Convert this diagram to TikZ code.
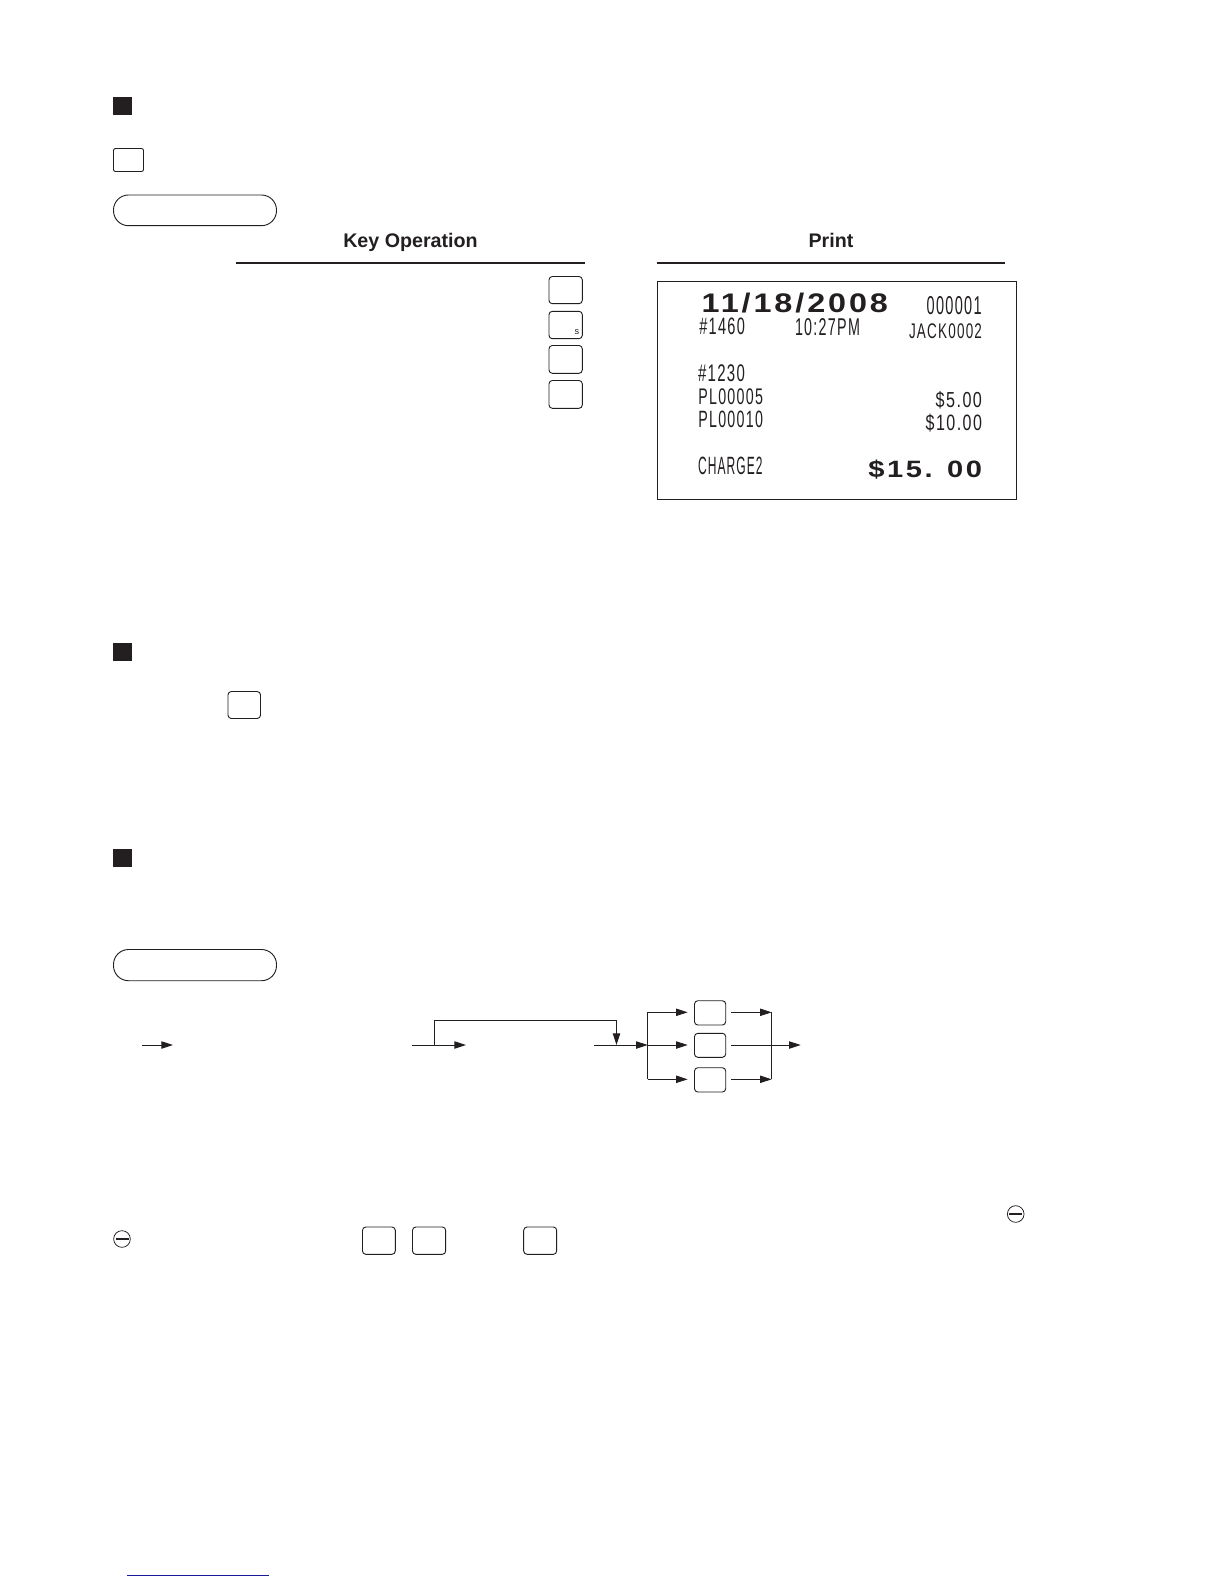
\documentclass[tikz,border=0pt]{standalone}
\usepackage{fontspec}
\usepackage{graphicx}
\setmainfont{Liberation Sans}
\usetikzlibrary{arrows.meta,shapes.misc}
\definecolor{ink}{HTML}{231F20}
\definecolor{linkblue}{HTML}{1A1A9C}
\tikzset{
  x=0.6pt,y=-0.6pt,
  every node/.style={inner sep=0pt,outer sep=0pt,text=ink},
  box/.style={draw=ink,fill=none,line width=0.55pt},
  keybox/.style={box,rounded corners=2pt},
  smallkey/.style={box,rounded corners=1.2pt},
  pillbox/.style={box,rounded corners=9pt},
  bullet/.style={fill=ink,draw=none},
  rule/.style={draw=ink,line width=0.95pt},
  flow/.style={draw=ink,line width=0.6pt},
  flowarrow/.style={flow,-{Triangle[length=7pt,width=4.4pt]}},
  head/.style={font=\fontsize{11.8}{14}\selectfont\bfseries,anchor=base},
  rct/.style={inner sep=0pt}
}
% rectangle from pixel corners
\newcommand{\pxrect}[6]{\draw[#1] (#3,#4) rectangle (#5,#6) node[pos=.5] (#2) {};}
% receipt text fitted into pixel box
\newcommand{\rcpt}[6]{%
  \pgfmathsetlengthmacro{\rw}{(#4-#2)*0.6pt}%
  \pgfmathsetlengthmacro{\rh}{(#5-#3)*0.6pt}%
  \node[rct] (#1) at ({(#2+#4)/2},{(#3+#5)/2}) {\resizebox*{\rw}{\rh}{\addfontfeature{LetterSpace=9}#6}};}
\begin{document}
\begin{tikzpicture}
\useasboundingbox (0,0) rectangle (1224,1584);
\fill[white] (0,0) rectangle (1224,1584);

% Section bullets
\pxrect{bullet}{bulletA}{113}{97}{132}{115}
\pxrect{bullet}{bulletB}{113}{643}{132}{661}
\pxrect{bullet}{bulletC}{113}{849}{132}{867}

% Inline keys
\pxrect{smallkey}{keyIntro}{113.5}{148.5}{143.5}{171.5}
\pxrect{pillbox}{pillA}{113.5}{195}{276.5}{225.7}
\pxrect{keybox}{keyMid}{228}{691.5}{260.5}{718.5}

% Table heads
\node[head] (keyHead) at (410.5,247.5) {Key Operation};
\node[head] (printHead) at (831,247.5) {Print};
\coordinate (ruleAl) at (236,263);
\coordinate (ruleAr) at (585,263);
\coordinate (ruleBl) at (656.5,263);
\coordinate (ruleBr) at (1005,263);
\draw[rule] (ruleAl) -- (ruleAr);
\draw[rule] (ruleBl) -- (ruleBr);

% Key operation keys
\pxrect{keybox}{opA}{549}{276.5}{582.3}{303.7}
\pxrect{keybox}{opB}{549}{311.3}{582.3}{338.7}
\pxrect{keybox}{opC}{549}{345.5}{582.3}{373.3}
\pxrect{keybox}{opD}{549}{380.5}{582.3}{408.3}
\node[font=\fontsize{5.5}{6}\selectfont] (opBsub) at (577,332) {s};

% Receipt
\pxrect{box}{receipt}{657.5}{281.7}{1016.7}{499.3}
\rcpt{rDate}{701.7}{293}{888}{313}{\bfseries 11/18/2008}
\rcpt{rNum}{926.7}{296.7}{981.7}{315}{000001}
\rcpt{rCons}{699.3}{317.5}{745}{334.3}{\#1460}
\rcpt{rTime}{795}{318.5}{860}{335.7}{10:27PM}
\rcpt{rClerk}{909}{323.3}{982}{338.3}{JACK0002}
\rcpt{rTable}{698}{365}{745}{382}{\#1230}
\rcpt{rPluA}{698.3}{389}{763}{405}{PL00005}
\rcpt{rPluB}{698.3}{411}{763}{427.7}{PL00010}
\rcpt{rAmtA}{935.7}{391.7}{982}{409.3}{\$5.00}
\rcpt{rAmtB}{925.7}{414.3}{982}{432.3}{\$10.00}
\rcpt{rPay}{698}{457.3}{762.7}{475}{CHARGE2}
\rcpt{rTotal}{868.3}{460}{982}{479.3}{\bfseries \$15. 00}

% Flow diagram
\pxrect{pillbox}{pillB}{113.5}{949.5}{276.5}{980.7}
\pxrect{keybox}{flowA}{694.5}{1000.7}{725.7}{1025}
\pxrect{keybox}{flowB}{694.5}{1033.3}{725.7}{1057.3}
\pxrect{keybox}{flowC}{694.5}{1067.7}{725.7}{1092}

\coordinate (startA) at (141.5,1045);
\coordinate (endA) at (173,1045);
\draw[flowarrow] (startA) -- (endA);

\coordinate (startB) at (412,1045);
\coordinate (endB) at (466,1045);
\draw[flowarrow] (startB) -- (endB);

\coordinate (startC) at (594,1045);
\coordinate (busL) at (647.7,1045);
\draw[flowarrow] (startC) -- (busL);

\coordinate (loopStart) at (434,1045);
\coordinate (loopUpA) at (434,1020.3);
\coordinate (loopUpB) at (616.5,1020.3);
\coordinate (loopEnd) at (616.5,1045);
\draw[flowarrow] (loopStart) -- (loopUpA) -- (loopUpB) -- (loopEnd);

\coordinate (busLtop) at (647.7,1012.3);
\coordinate (busLbot) at (647.7,1079.3);
\draw[flow] (busLtop) -- (busLbot);
\coordinate (inA) at (687.7,1012.3);
\coordinate (inB) at (687.7,1045);
\coordinate (inC) at (687.7,1079.3);
\draw[flowarrow] (busLtop) -- (inA);
\draw[flowarrow] (busL) -- (inB);
\draw[flowarrow] (busLbot) -- (inC);

\coordinate (outAs) at (731,1012.3);
\coordinate (outBs) at (731,1045);
\coordinate (outCs) at (731,1079.3);
\coordinate (busRtop) at (771.7,1012.3);
\coordinate (busRbot) at (771.7,1079.3);
\coordinate (outEnd) at (800.7,1045);
\draw[flow] (busRtop) -- (busRbot);
\draw[flowarrow] (outAs) -- (busRtop);
\draw[flowarrow] (outCs) -- (busRbot);
\draw[flowarrow] (outBs) -- (outEnd);

% Mode symbols and trailing keys
\node[draw=ink,circle,line width=0.45pt,minimum size=10pt] (minusA) at (1015.7,1214) {};
\node[draw=ink,circle,line width=0.45pt,minimum size=10pt] (minusB) at (122,1239) {};
\draw[line width=1.2pt,draw=ink] ([xshift=-3.9pt]minusA.center) -- ([xshift=3.9pt]minusA.center);
\draw[line width=1.2pt,draw=ink] ([xshift=-3.9pt]minusB.center) -- ([xshift=3.9pt]minusB.center);
\pxrect{keybox}{tailA}{362.5}{1227}{395.3}{1254.3}
\pxrect{keybox}{tailB}{412.5}{1227}{445.7}{1254.3}
\pxrect{keybox}{tailC}{523.7}{1227}{556.7}{1254.3}

% Footer rule
\coordinate (linkL) at (127,1575.3);
\coordinate (linkR) at (269,1575.3);
\draw[draw=linkblue,line width=0.6pt] (linkL) -- (linkR);
\end{tikzpicture}
\end{document}
